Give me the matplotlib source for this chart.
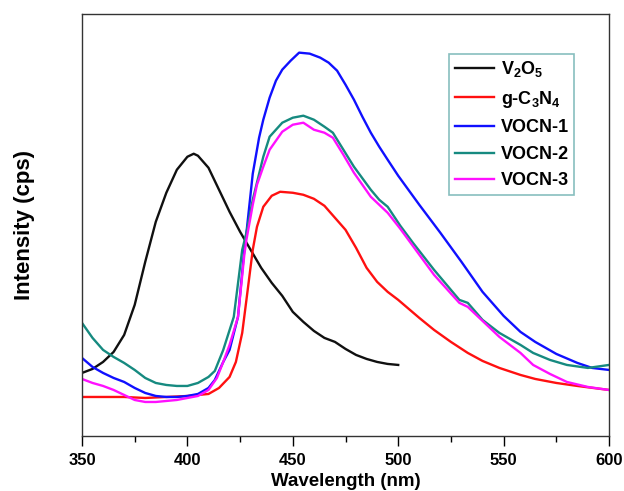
import matplotlib
matplotlib.use("Agg")
import matplotlib.pyplot as plt
from matplotlib.ticker import MultipleLocator

plt.rcParams['font.family'] = ['Liberation Sans', 'DejaVu Sans']
plt.rcParams['font.weight'] = 'bold'
plt.rcParams['mathtext.fontset'] = 'custom'
plt.rcParams['mathtext.rm'] = 'Liberation Sans:bold'
plt.rcParams['mathtext.default'] = 'rm'

# PL spectra, intensity in arbitrary units
wl_v2o5 = [350, 355, 360, 365, 370, 375, 380, 385, 390, 395, 400, 403, 405, 410, 415,
           420, 425, 430, 435, 440, 445, 450, 455, 460, 465, 470, 475, 480, 485, 490,
           495, 500]
v2o5 = [63, 67, 74, 84, 101, 131, 174, 214, 243, 266, 279, 282, 280, 268, 246,
        224, 204, 186, 168, 153, 140, 124, 114, 105, 98, 94, 87, 81, 77, 74,
        72, 71]

wl_gcn = [350, 360, 370, 380, 390, 400, 405, 410, 415, 420, 423, 426, 428, 431, 433,
          436, 440, 444, 450, 455, 460, 465, 470, 475, 480, 485, 490, 495, 500, 510,
          517, 525, 533, 540, 548, 558, 565, 575, 585, 600]
gcn = [39, 39, 39, 38, 39, 40, 41, 42, 48, 59, 74, 103, 136, 186, 209,
       229, 240, 244, 243, 241, 237, 230, 218, 206, 188, 168, 154, 144, 136, 118,
       106, 94, 83, 75, 68, 61, 57, 53, 50, 46]

wl_v1 = [350, 355, 360, 365, 370, 375, 380, 385, 390, 395, 400, 405, 410, 413, 417,
         420, 424, 427, 428, 431, 434, 436, 439, 442, 445, 449, 453, 458, 463, 467,
         471, 475, 479, 483, 487, 491, 495, 500, 510, 520, 530, 540, 550, 558, 565,
         575, 585, 592, 600]
vocn1 = [78, 69, 63, 58, 54, 48, 43, 40, 39, 39, 40, 42, 48, 56, 74,
         86, 119, 186, 203, 262, 298, 316, 338, 355, 366, 375, 383, 382, 378, 373,
         365, 351, 336, 319, 303, 289, 276, 260, 231, 203, 174, 144, 120, 104, 94,
         82, 73, 68, 66]

wl_v2 = [350, 355, 360, 365, 370, 375, 380, 385, 390, 395, 400, 405, 410, 413, 417,
         422, 426, 428, 431, 436, 439, 445, 450, 455, 460, 465, 469, 474, 479, 487,
         491, 495, 501, 507, 517, 529, 533, 540, 548, 558, 564, 572, 580, 590, 600]
vocn2 = [113, 98, 86, 79, 73, 66, 58, 53, 51, 50, 50, 53, 59, 65, 86,
         119, 186, 203, 236, 279, 299, 313, 318, 320, 316, 309, 303, 286, 269, 246,
         236, 229, 210, 193, 166, 136, 133, 116, 103, 91, 83, 76, 71, 68, 71]

wl_v3 = [350, 355, 360, 365, 370, 375, 380, 385, 390, 395, 400, 405, 410, 414, 417,
         420, 424, 427, 428, 431, 433, 436, 439, 445, 450, 455, 460, 465, 469, 474,
         479, 487, 495, 501, 517, 529, 533, 548, 558, 564, 572, 580, 590, 600]
vocn3 = [57, 53, 50, 46, 41, 36, 34, 34, 35, 36, 38, 40, 46, 58, 74,
         91, 119, 181, 196, 231, 251, 269, 286, 304, 311, 313, 306, 303, 298, 281,
         263, 239, 223, 207, 161, 133, 129, 99, 83, 71, 62, 54, 49, 46]

labels = ['V$_2$O$_5$', 'g-C$_3$N$_4$', 'VOCN-1', 'VOCN-2', 'VOCN-3']
colors = ['#101010', '#ff1010', '#1010ff', '#168a80', '#ff10ff']

fig = plt.figure(figsize=(6.24, 4.91), dpi=100)
ax = fig.add_axes([0.1314, 0.112, 0.8446, 0.8603])

series = [(wl_v2o5, v2o5), (wl_gcn, gcn), (wl_v1, vocn1), (wl_v2, vocn2), (wl_v3, vocn3)]
for (x, y), lab, c in zip(series, labels, colors):
    ax.plot(x, y, color=c, lw=1.7, label=lab)

ax.set_xlim(350, 600)
ax.set_ylim(0, 422)
ax.xaxis.set_major_locator(MultipleLocator(50))
ax.xaxis.set_minor_locator(MultipleLocator(25))
ax.tick_params(axis='x', which='major', length=7, width=1, labelsize=12, pad=5)
ax.tick_params(axis='x', which='minor', length=4, width=1)
ax.set_yticks([])
for s in ax.spines.values():
    s.set_color('#333333')
    s.set_linewidth(1)

ax.set_xlabel('Wavelength (nm)', fontsize=13.5, fontweight='bold', labelpad=4)
ax.set_ylabel('Intensity (cps)', fontsize=16, fontweight='bold', labelpad=34)

leg = ax.legend(loc='upper left', bbox_to_anchor=(0.697, 0.905), fontsize=13,
                frameon=True, fancybox=False, handlelength=2.2, handletextpad=0.35,
                labelspacing=0.53, borderpad=0.3, borderaxespad=0)
leg.get_frame().set_edgecolor('#6aaeae')
leg.get_frame().set_linewidth(1.2)

fig.savefig('out.png', dpi=100)
